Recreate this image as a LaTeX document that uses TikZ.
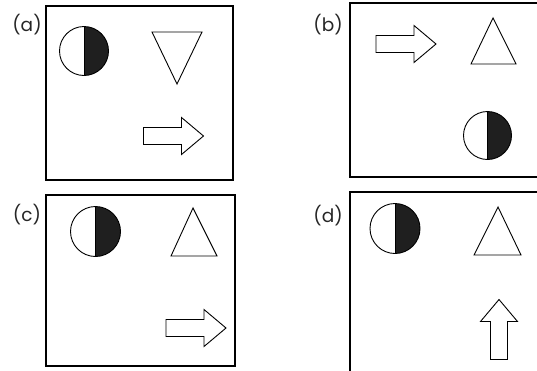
\documentclass[tikz,border=0pt]{standalone}
\usepackage{fontspec}
\setmainfont{Poppins}
\usetikzlibrary{positioning}
\tikzset{
  fig/frame/.style={draw=black, line width=1.1pt},
  fig/shape/.style={draw=black, line width=0.9pt, line join=miter},
  fig/label/.style={font=\fontsize{18.5}{20}\selectfont, text=black!85, inner sep=0pt},
  pics/halfdisc/.style={code={
    \fill[black!88] (0,-#1) arc[start angle=-90, end angle=90, radius=#1] -- cycle;
    \draw[fig/shape] (0,0) circle[radius=#1];
    \draw[fig/shape] (0,-#1) -- (0,#1);
  }},
  pics/blockarrow/.style={code={
    \draw[fig/shape] (-30,-8.5) -- (8,-8.5) -- (8,-18.5) -- (30,0) -- (8,18.5)
      -- (8,8.5) -- (-30,8.5) -- cycle;
  }}
}
\begin{document}
\begin{tikzpicture}[x=1pt,y=-1pt]
  \useasboundingbox (0,0) rectangle (537,370);
  \clip (0,0) rectangle (537,370);
  % frames
  \draw[fig/frame] (46,6) rectangle (233,180);
  \draw[fig/frame] (545,3) -- (350,3) -- (350,177) -- (545,177);
  \draw[fig/frame] (46,195) rectangle (235,366);
  \draw[fig/frame] (545,192) -- (350,192) -- (350,380);
  % labels
  \node[fig/label] (la) at (27,25) {(a)};
  \node[fig/label] (lb) at (328,25) {(b)};
  \node[fig/label] (lc) at (27,215) {(c)};
  \node[fig/label] (ld) at (328,216) {(d)};
  % (a)
  \pic at (84,51) {halfdisc=24.5};
  \draw[fig/shape] (152,32) -- (202,32) -- (177,84) -- cycle;
  \pic at (173.5,136) {blockarrow};
  % (b)
  \pic at (406,44) {blockarrow};
  \draw[fig/shape] (493,18) -- (516,64) -- (471,64) -- cycle;
  \pic at (487.5,135.5) {halfdisc=24};
  % (c)
  \pic at (95.5,231.5) {halfdisc=25};
  \draw[fig/shape] (193,208) -- (217,256) -- (171,256) -- cycle;
  \pic at (196,328) {blockarrow};
  % (d)
  \pic at (395,228.5) {halfdisc=25};
  \draw[fig/shape] (498,207) -- (521,255) -- (474,255) -- cycle;
  \pic[rotate=90] at (499,329.5) {blockarrow};
\end{tikzpicture}
\end{document}
